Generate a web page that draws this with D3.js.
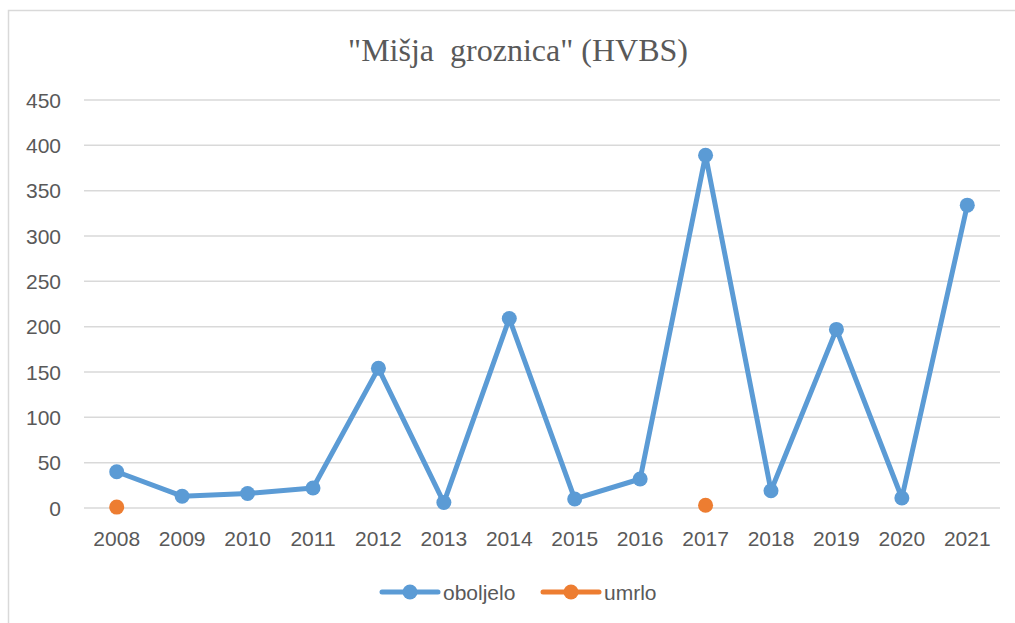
<!DOCTYPE html>
<html>
<head>
<meta charset="utf-8">
<script src="https://cdn.jsdelivr.net/npm/d3@7"></script>
<style>
  body { margin: 0; background: #fff; }
</style>
</head>
<body>
<div id="chart"></div>
<script>
// Data
const years = ["2008", "2009", "2010", "2011", "2012", "2013", "2014",
  "2015", "2016", "2017", "2018", "2019", "2020", "2021"];
const oboljelo = [40, 13, 16, 22, 154, 6, 209, 10, 32, 389, 19, 197, 11, 334];
const umrlo = [1, null, null, null, null, null, null, null, null, 3, null, null, null, null];
const yTicks = [0, 50, 100, 150, 200, 250, 300, 350, 400, 450];
const seriesNames = ["oboljelo", "umrlo"];
const seriesColors = ["#5B9BD5", "#ED7D31"];

function drawChart() {
  const width = 1015;
  const height = 623;
  const textCol = "#595959";
  const gridCol = "#d9d9d9";

  const svg = d3.select("#chart")
    .append("svg")
    .attr("width", width)
    .attr("height", height);

  // chart border
  svg.append("rect")
    .attr("x", 8.5).attr("y", 10.5)
    .attr("width", 1020).attr("height", 630)
    .attr("fill", "none")
    .attr("stroke", gridCol)
    .attr("stroke-width", 1.5);

  // title
  svg.append("text")
    .attr("x", 518).attr("y", 61)
    .attr("text-anchor", "middle")
    .style("white-space", "pre")
    .attr("xml:space", "preserve")
    .style("font-family", "'Liberation Serif', 'Times New Roman', serif")
    .style("font-size", "32px")
    .attr("fill", textCol)
    .text("\"Mišja  groznica\" (HVBS)");

  // scales
  const x = d3.scalePoint().domain(years).range([84, 1000]).padding(0.5);
  const y = d3.scaleLinear().domain([0, 450]).range([508, 100]);

  // gridlines
  svg.append("g")
    .selectAll("line")
    .data(yTicks)
    .enter()
    .append("line")
    .attr("x1", 84).attr("x2", 1000)
    .attr("y1", (d) => y(d)).attr("y2", (d) => y(d))
    .attr("stroke", gridCol)
    .attr("stroke-width", 1.5);

  // y labels
  svg.append("g")
    .selectAll("text")
    .data(yTicks)
    .enter()
    .append("text")
    .attr("x", 61)
    .attr("y", (d) => y(d) + 7.5)
    .attr("text-anchor", "end")
    .style("font-family", "'Liberation Sans', Arial, sans-serif")
    .style("font-size", "21px")
    .attr("fill", textCol)
    .text((d) => d);

  // x labels
  svg.append("g")
    .selectAll("text")
    .data(years)
    .enter()
    .append("text")
    .attr("x", (d) => x(d))
    .attr("y", 546)
    .attr("text-anchor", "middle")
    .style("font-family", "'Liberation Sans', Arial, sans-serif")
    .style("font-size", "21px")
    .attr("fill", textCol)
    .text((d) => d);

  // series
  const series = [oboljelo, umrlo];
  const line = d3.line()
    .defined((d) => d != null)
    .x((d, i) => x(years[i]))
    .y((d) => y(d));

  series.forEach((vals, s) => {
    svg.append("path")
      .datum(vals)
      .attr("d", line)
      .attr("fill", "none")
      .attr("stroke", seriesColors[s])
      .attr("stroke-width", 5)
      .attr("stroke-linejoin", "round")
      .attr("stroke-linecap", "round");

    svg.append("g")
      .selectAll("circle")
      .data(vals.map((v, i) => ({ v, i })).filter((d) => d.v != null))
      .enter()
      .append("circle")
      .attr("cx", (d) => x(years[d.i]))
      .attr("cy", (d) => y(d.v))
      .attr("r", 7.5)
      .attr("fill", seriesColors[s]);
  });

  // legend
  const legendX = [382, 543];
  const legendY = 592;
  seriesNames.forEach((name, s) => {
    const g = svg.append("g");
    g.append("line")
      .attr("x1", legendX[s]).attr("x2", legendX[s] + 56)
      .attr("y1", legendY).attr("y2", legendY)
      .attr("stroke", seriesColors[s])
      .attr("stroke-width", 5)
      .attr("stroke-linecap", "round");
    g.append("circle")
      .attr("cx", legendX[s] + 28).attr("cy", legendY)
      .attr("r", 7.5)
      .attr("fill", seriesColors[s]);
    g.append("text")
      .attr("x", legendX[s] + 61)
      .attr("y", legendY + 7.5)
      .style("font-family", "'Liberation Sans', Arial, sans-serif")
      .style("font-size", "21px")
      .attr("fill", textCol)
      .text(name);
  });
}

window.onload = drawChart;
</script>
</body>
</html>
